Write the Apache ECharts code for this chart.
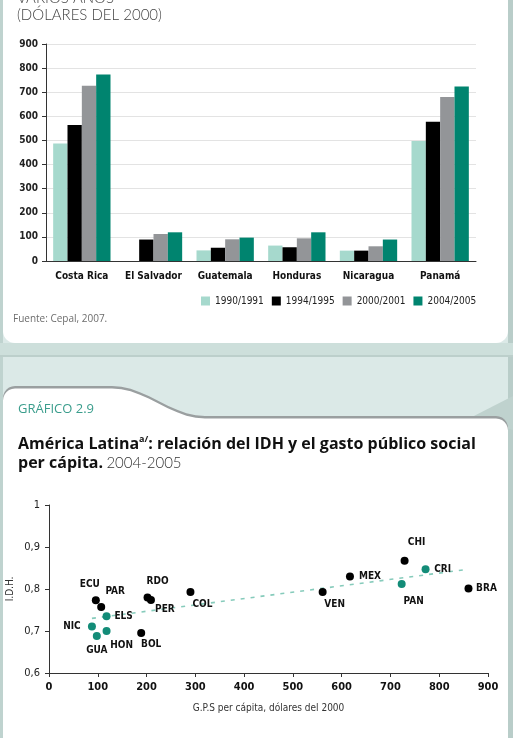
<!DOCTYPE html>
<html>
<head>
<meta charset="utf-8">
<script src="https://cdn.jsdelivr.net/npm/echarts@6/dist/echarts.min.js"></script>
<style>
html, body { margin: 0; padding: 0; background: #dbe9e7; }
#main { width: 513px; height: 738px; }
</style>
</head>
<body>
<div id="main"></div>
<script>
// --- gasto publico social per capita (barras) ---
var paises = ['Costa Rica', 'El Salvador', 'Guatemala', 'Honduras', 'Nicaragua', 'Panamá'];
var periodos = ['1990/1991', '1994/1995', '2000/2001', '2004/2005'];
var gps9091 = [487, 0, 44, 64, 43, 498];
var gps9495 = [564, 89, 55, 57, 43, 578];
var gps0001 = [727, 112, 90, 94, 61, 680];
var gps0405 = [774, 119, 97, 119, 89, 724];
var barColors = ['#a6d9cd', '#000000', '#939598', '#00846f'];

// --- IDH vs gasto (dispersion) ---
var codNegro = ['ECU', 'PAR', 'RDO', 'PER', 'COL', 'BOL', 'VEN', 'MEX', 'CHI', 'BRA'];
var gpsNegro = [96, 107, 202, 209, 290, 189, 561, 617, 729, 860];
var idhNegro = [0.773, 0.757, 0.780, 0.774, 0.793, 0.695, 0.793, 0.830, 0.867, 0.801];
var codVerde = ['ELS', 'NIC', 'GUA', 'HON', 'CRI', 'PAN'];
var gpsVerde = [118, 88, 98, 118, 772, 723];
var idhVerde = [0.735, 0.711, 0.688, 0.700, 0.847, 0.812];
var tendencia = [[88, 0.730], [860, 0.847]];

// desplazamiento de etiquetas respecto al punto
var etiq = {
  ECU: [-6, -16], PAR: [14, -16], RDO: [10, -16], PER: [14, 9], COL: [12, 12],
  BOL: [10, 11], VEN: [12, 12], MEX: [20, 0], CHI: [12, -18], BRA: [18, 0],
  ELS: [17, 0], NIC: [-20, 0], GUA: [0, 14], HON: [15, 14], CRI: [17, 0], PAN: [12, 17]
};

var NARROW = "'DejaVu Sans Condensed', sans-serif";

function puntos(cods, xs, ys) {
  return cods.map(function (c, i) {
    return {
      name: c,
      value: [xs[i], ys[i]],
      label: { offset: etiq[c] }
    };
  });
}

// contorno de la segunda tarjeta (pestaña + curva)
function tarjeta2(dy) {
  var pts = [];
  var top = 386 + dy, low = 416 + dy;
  pts.push([3, 760]);
  pts.push([3, top + 12]);
  for (var a = 180; a <= 270; a += 15) {
    var r = a * Math.PI / 180;
    pts.push([15 + 12 * Math.cos(r), top + 12 + 12 * Math.sin(r)]);
  }
  pts.push([112, top]);
  for (var t = 0; t <= 1; t += 0.1) {
    var x = 112 + (205 - 112) * t;
    var y = top + (low - top) * (0.5 - 0.5 * Math.cos(Math.PI * t));
    pts.push([x, y]);
  }
  pts.push([496, low]);
  for (var b = 270; b <= 360; b += 15) {
    var rr = b * Math.PI / 180;
    pts.push([496 + 12 * Math.cos(rr), low + 12 + 12 * Math.sin(rr)]);
  }
  pts.push([508, 760]);
  return pts;
}

var chart = echarts.init(document.getElementById('main'));

var etiquetaPunto = {
  show: true, position: 'inside', formatter: '{b}',
  fontFamily: NARROW, fontWeight: 'bold', fontSize: 10, color: '#111'
};

var option = {
  backgroundColor: '#dbe9e7',
  animation: false,
  graphic: [
    { type: 'rect', z: -10, shape: { x: 0, y: 0, width: 3, height: 738 }, style: { fill: '#bfd3cf' } },
    { type: 'rect', z: -10, shape: { x: 508, y: 0, width: 5, height: 738 }, style: { fill: '#b9cdc9' } },
    { type: 'rect', z: -10, shape: { x: 0, y: 343, width: 513, height: 13 }, style: { fill: '#cddfdb' } },
    { type: 'rect', z: -10, shape: { x: 0, y: 355, width: 513, height: 2 }, style: { fill: '#bccfcb' } },
    { type: 'rect', z: -9, shape: { x: 3, y: -20, width: 505, height: 363, r: 12 }, style: { fill: '#ffffff' } },
    { type: 'polygon', z: -9, shape: { points: [[470, 418], [513, 396], [513, 430]] }, style: { fill: '#bfd2ce' } },
    { type: 'polygon', z: -9, shape: { points: tarjeta2(0) }, style: { fill: '#9a9fa0' } },
    { type: 'polygon', z: -8, shape: { points: tarjeta2(2.5) }, style: { fill: '#ffffff' } },
    {
      type: 'text', left: 17, top: -9,
      style: { text: 'VARIOS AÑOS', font: '300 15px Lato', fill: '#444' }
    },
    {
      type: 'text', left: 17, top: 8,
      style: { text: '(DÓLARES DEL 2000)', font: '300 15px Lato', fill: '#444' }
    },
    {
      type: 'text', left: 13, top: 314,
      style: { text: 'Fuente: Cepal, 2007.', font: '10px "Open Sans"', fill: '#6d6d6d' }
    },
    {
      type: 'text', left: 18, top: 403,
      style: { text: 'GRÁFICO 2.9', font: '13px "Open Sans"', fill: '#3a9d8c' }
    },
    {
      type: 'text', left: 18, top: 435,
      style: {
        text: '{b|América Latina}{s|a/}{b|: relación del IDH y el gasto público social}\n{b|per cápita.} {l|2004-2005}',
        rich: {
          b: { font: 'bold 16px "Open Sans"', fill: '#111', lineHeight: 19 },
          s: { font: 'bold 9px "Open Sans"', fill: '#111', verticalAlign: 'top', lineHeight: 19 },
          l: { font: '300 15px Lato', fill: '#333', lineHeight: 19 }
        }
      }
    }
  ],
  legend: {
    data: periodos,
    left: 196,
    top: 291,
    width: 310,
    itemWidth: 9,
    itemHeight: 9,
    itemGap: 8,
    icon: 'rect',
    textStyle: { fontFamily: NARROW, fontSize: 10, color: '#222' }
  },
  grid: [
    { left: 46, right: 37, top: 44, bottom: 477, outerBoundsMode: 'none' },
    { left: 49, right: 25, top: 505, bottom: 65, outerBoundsMode: 'none' }
  ],
  xAxis: [
    {
      gridIndex: 0, type: 'category', data: paises,
      axisLine: { lineStyle: { color: '#333' } },
      axisTick: { interval: 0, length: 4, lineStyle: { color: '#333' } },
      axisLabel: { interval: 0, margin: 10, fontFamily: NARROW, fontWeight: 'bold', fontSize: 10, color: '#111' }
    },
    {
      gridIndex: 1, type: 'value', min: 0, max: 900, interval: 100,
      name: 'G.P.S per cápita, dólares del 2000', nameLocation: 'middle', nameGap: 30,
      nameMoveOverlap: false,
      nameTextStyle: { fontFamily: NARROW, fontSize: 10, color: '#333' },
      splitLine: { show: false },
      axisLine: { show: true, lineStyle: { color: '#333' } },
      axisTick: { show: true, length: 4, lineStyle: { color: '#333' } },
      axisLabel: { margin: 9, fontFamily: NARROW, fontWeight: 'bold', fontSize: 11, color: '#111' }
    }
  ],
  yAxis: [
    {
      gridIndex: 0, type: 'value', min: 0, max: 900, interval: 100,
      axisLine: { show: true, lineStyle: { color: '#333' } },
      axisTick: { show: true, length: 4, lineStyle: { color: '#333' } },
      splitLine: { lineStyle: { color: '#e3e3e3' } },
      axisLabel: { margin: 8, fontFamily: NARROW, fontWeight: 'bold', fontSize: 10, color: '#222' }
    },
    {
      gridIndex: 1, type: 'value', min: 0.6, max: 1, interval: 0.1,
      name: 'I.D.H.', nameLocation: 'middle', nameGap: 34, nameRotate: 90,
      nameMoveOverlap: false,
      nameTextStyle: { fontFamily: NARROW, fontSize: 10, color: '#333' },
      splitLine: { show: false },
      axisLine: { show: true, lineStyle: { color: '#333' } },
      axisTick: { show: true, length: 4, lineStyle: { color: '#333' } },
      axisLabel: {
        margin: 9, fontFamily: NARROW, fontSize: 11, color: '#222',
        formatter: function (v) { return String(+v.toFixed(1)).replace('.', ','); }
      }
    }
  ],
  series: [
    { name: periodos[0], type: 'bar', xAxisIndex: 0, yAxisIndex: 0, data: gps9091, itemStyle: { color: barColors[0] }, barGap: '0%', barCategoryGap: '20%' },
    { name: periodos[1], type: 'bar', xAxisIndex: 0, yAxisIndex: 0, data: gps9495, itemStyle: { color: barColors[1] }, barGap: '0%', barCategoryGap: '20%' },
    { name: periodos[2], type: 'bar', xAxisIndex: 0, yAxisIndex: 0, data: gps0001, itemStyle: { color: barColors[2] }, barGap: '0%', barCategoryGap: '20%' },
    { name: periodos[3], type: 'bar', xAxisIndex: 0, yAxisIndex: 0, data: gps0405, itemStyle: { color: barColors[3] }, barGap: '0%', barCategoryGap: '20%' },
    {
      type: 'line', xAxisIndex: 1, yAxisIndex: 1, data: tendencia, symbol: 'none', silent: true,
      lineStyle: { color: '#86cbbb', width: 1.6, type: [4, 6] }, z: 1
    },
    {
      type: 'scatter', xAxisIndex: 1, yAxisIndex: 1, symbolSize: 8,
      itemStyle: { color: '#000', opacity: 1 },
      data: puntos(codNegro, gpsNegro, idhNegro),
      label: etiquetaPunto
    },
    {
      type: 'scatter', xAxisIndex: 1, yAxisIndex: 1, symbolSize: 8,
      itemStyle: { color: '#138c78', opacity: 1 },
      data: puntos(codVerde, gpsVerde, idhVerde),
      label: etiquetaPunto
    }
  ]
};

chart.setOption(option);
</script>
</body>
</html>
